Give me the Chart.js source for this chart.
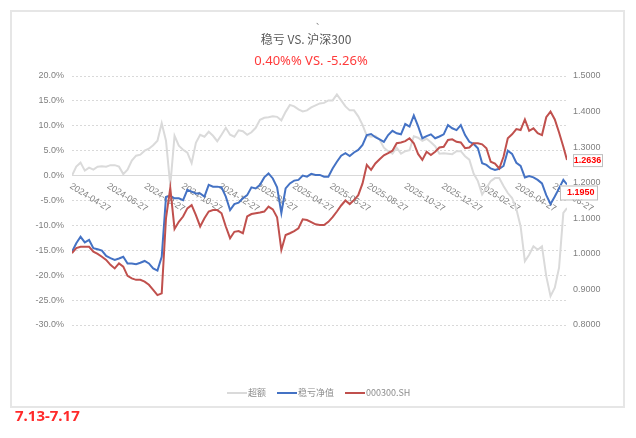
<!DOCTYPE html>
<html>
<head>
<meta charset="utf-8">
<script src="https://cdn.jsdelivr.net/npm/chart.js@4.4.1/dist/chart.umd.min.js"></script>
<style>
  html, body { margin: 0; padding: 0; background: #fff; }
  #wrap { width: 636px; height: 438px; }
</style>
</head>
<body>
<div id="wrap"><canvas id="myChart" width="636" height="438"></canvas></div>
<script>
// 資料 (每週取一點, 最後一點為報告日)
const startDate = "2024-04-27";
const endDate = "2026-07-17";
const stepDays = 7;

const xTickLabels = [
  "2024-04-27", "2024-06-27", "2024-08-27", "2024-10-27", "2024-12-27",
  "2025-02-27", "2025-04-27", "2025-06-27", "2025-08-27", "2025-10-27",
  "2025-12-27", "2026-02-27", "2026-04-27", "2026-06-27"
];

// 超额 (%), 左軸
const excessPct = [
  0.0, 1.8, 2.6, 1.0, 1.6, 1.2, 1.8, 1.9, 1.8, 2.1,
  2.1, 1.8, 0.3, 1.2, 3.0, 4.0, 4.2, 5.0, 5.4, 6.1,
  7.0, 10.5, 7.0, -2.0, 8.0, 6.0, 5.2, 4.6, 2.5, 6.6,
  8.2, 7.8, 8.8, 8.0, 6.9, 8.2, 9.6, 8.2, 7.8, 9.1,
  8.9, 8.2, 8.7, 9.6, 11.2, 11.6, 11.7, 11.9, 11.8, 11.1,
  12.8, 14.2, 13.9, 13.3, 12.9, 13.1, 13.7, 14.1, 14.5, 14.6,
  15.1, 15.1, 16.3, 15.1, 13.9, 13.1, 13.1, 11.9, 10.2, 8.0,
  7.8, 8.0, 7.2, 5.6, 4.9, 4.4, 5.6, 4.4, 4.9, 5.1,
  7.9, 7.6, 7.0, 7.4, 6.7, 5.9, 4.4, 4.5, 4.4, 4.3,
  4.9, 4.9, 3.9, 3.2, 0.4, -1.1, -3.8, -2.5, -1.1, -0.5,
  -0.5, -2.1, -3.5, -4.5, -6.7, -10.2, -17.2, -15.9, -14.2, -14.9,
  -14.2, -20.2, -24.2, -22.5, -18.5, -7.5, -6.5
];

// 稳亏净值, 右軸
const navStrategy = [
  1.006, 1.030, 1.048, 1.032, 1.039, 1.016, 1.013, 1.009, 0.994, 0.988,
  0.983, 0.987, 0.992, 0.973, 0.973, 0.971, 0.975, 0.980, 0.973, 0.959,
  0.953, 0.992, 1.160, 1.163, 1.156, 1.156, 1.151, 1.180, 1.175, 1.170,
  1.170, 1.161, 1.194, 1.189, 1.189, 1.187, 1.161, 1.123, 1.140, 1.144,
  1.156, 1.165, 1.187, 1.184, 1.194, 1.215, 1.226, 1.212, 1.187, 1.115,
  1.184, 1.198, 1.206, 1.208, 1.220, 1.217, 1.225, 1.222, 1.222, 1.217,
  1.217, 1.240, 1.259, 1.276, 1.283, 1.275, 1.285, 1.292, 1.306, 1.334,
  1.337, 1.328, 1.322, 1.315, 1.334, 1.346, 1.339, 1.336, 1.365, 1.358,
  1.389, 1.359, 1.325, 1.331, 1.336, 1.325, 1.330, 1.336, 1.362, 1.353,
  1.348, 1.362, 1.334, 1.315, 1.309, 1.297, 1.255, 1.250, 1.240, 1.236,
  1.239, 1.247, 1.290, 1.281, 1.256, 1.247, 1.215, 1.219, 1.215, 1.208,
  1.198, 1.165, 1.140, 1.161, 1.184, 1.208, 1.195
];

// 000300.SH, 右軸
const navIndex = [
  1.002, 1.016, 1.020, 1.020, 1.020, 1.006, 1.000, 0.992, 0.983, 0.969,
  0.959, 0.973, 0.964, 0.938, 0.931, 0.927, 0.927, 0.922, 0.913, 0.899,
  0.884, 0.889, 1.100, 1.185, 1.070, 1.090, 1.105, 1.128, 1.137, 1.109,
  1.077, 1.100, 1.119, 1.123, 1.123, 1.114, 1.077, 1.044, 1.062, 1.064,
  1.058, 1.105, 1.112, 1.114, 1.116, 1.119, 1.133, 1.125, 1.103, 1.011,
  1.053, 1.058, 1.064, 1.072, 1.097, 1.095, 1.089, 1.083, 1.081, 1.081,
  1.090, 1.103, 1.119, 1.136, 1.150, 1.140, 1.151, 1.165, 1.198, 1.250,
  1.236, 1.254, 1.266, 1.277, 1.283, 1.290, 1.311, 1.313, 1.317, 1.325,
  1.311, 1.281, 1.264, 1.287, 1.278, 1.287, 1.299, 1.301, 1.320, 1.322,
  1.315, 1.313, 1.297, 1.299, 1.311, 1.311, 1.308, 1.297, 1.259, 1.254,
  1.240, 1.273, 1.325, 1.336, 1.351, 1.348, 1.378, 1.346, 1.353, 1.339,
  1.334, 1.384, 1.400, 1.378, 1.341, 1.301, 1.2636
];

const seriesNames = ["超额", "稳亏净值", "000300.SH"];
const titleText = "稳亏 VS. 沪深300";
const subTitleText = "0.40%% VS. -5.26%";
const footText = "7.13-7.17";

// 日期 -> 距起始日天數
function dayOffset(s) {
  return Math.round((Date.parse(s) - Date.parse(startDate)) / 86400000);
}
const lastDay = dayOffset(endDate);

function toPoints(arr) {
  return arr.map((v, i) => ({ x: i === arr.length - 1 ? lastDay : i * stepDays, y: v }));
}

const axisFont = { family: "'Liberation Sans', Arial, sans-serif", size: 9 };
const axisColor = "#808080";

// 自繪: 外框, 標題, 圖例, x 軸標籤, 末端數值
const decoPlugin = {
  id: "deco",
  beforeDraw(chart) {
    const ctx = chart.ctx;
    ctx.save();
    ctx.fillStyle = "#fff";
    ctx.fillRect(0, 0, chart.width, chart.height);
    ctx.strokeStyle = "#e6e6e6";
    ctx.lineWidth = 2;
    ctx.strokeRect(11, 11, 613, 396);
    ctx.restore();
  },
  beforeDatasetsDraw(chart) {
    const ctx = chart.ctx;
    const xs = chart.scales.x;
    const axisY = chart.scales.y.getPixelForValue(0);
    ctx.save();
    ctx.font = "9px 'Liberation Sans', Arial, sans-serif";
    ctx.fillStyle = axisColor;
    ctx.textAlign = "left";
    ctx.textBaseline = "top";
    xTickLabels.forEach((lb) => {
      const px = xs.getPixelForValue(dayOffset(lb));
      ctx.save();
      ctx.translate(px + 1, axisY + 6);
      ctx.rotate((32 * Math.PI) / 180);
      ctx.fillText(lb, 0, 0);
      ctx.restore();
    });
    ctx.restore();
  },
  afterDatasetsDraw(chart) {
    const ctx = chart.ctx;
    ctx.save();
    ctx.font = "bold 9px 'Liberation Sans', Arial, sans-serif";
    ctx.textBaseline = "middle";
    ctx.lineWidth = 1;

    // 000300.SH 末端
    let m = chart.getDatasetMeta(2);
    let p = m.data[m.data.length - 1];
    ctx.fillStyle = "#fff";
    ctx.strokeStyle = "#bfbfbf";
    ctx.fillRect(p.x + 6, p.y - 6, 29, 12);
    ctx.strokeRect(p.x + 6.5, p.y - 5.5, 29, 12);
    ctx.fillStyle = "#ff0000";
    ctx.textAlign = "center";
    ctx.fillText(navIndex[navIndex.length - 1].toFixed(4), p.x + 20.5, p.y + 0.5);

    // 稳亏净值 末端
    m = chart.getDatasetMeta(1);
    p = m.data[m.data.length - 1];
    ctx.fillStyle = "#fff";
    ctx.fillRect(p.x - 7, p.y + 1, 37, 14);
    ctx.strokeRect(p.x - 6.5, p.y + 1.5, 37, 14);
    ctx.fillStyle = "#ff0000";
    ctx.textAlign = "left";
    ctx.fillText(navStrategy[navStrategy.length - 1].toFixed(4), p.x, p.y + 8.5);
    ctx.restore();
  },
  afterDraw(chart) {
    const ctx = chart.ctx;
    ctx.save();
    ctx.textBaseline = "middle";
    ctx.textAlign = "center";

    // 標題
    ctx.fillStyle = "#7f7f7f";
    ctx.font = "8px 'Noto Sans CJK SC'";
    ctx.textAlign = "left";
    ctx.textBaseline = "top";
    ctx.fillText("、", 316, 17);

    ctx.textAlign = "center";
    ctx.textBaseline = "middle";
    ctx.fillStyle = "#595959";
    ctx.font = "12px 'Noto Sans CJK SC', sans-serif";
    ctx.fillText(titleText, 306, 39);

    ctx.fillStyle = "#ff3b3b";
    ctx.font = "13px 'Noto Sans', sans-serif";
    ctx.fillText(subTitleText, 311, 61);

    // 圖例
    let lx = 227;
    const ly = 393;
    ctx.textAlign = "left";
    chart.data.datasets.forEach((ds, i) => {
      ctx.strokeStyle = ds.borderColor;
      ctx.lineWidth = 2;
      ctx.beginPath();
      ctx.moveTo(lx, ly);
      ctx.lineTo(lx + 20, ly);
      ctx.stroke();
      ctx.font = "9px 'Noto Sans CJK SC', 'Liberation Sans', sans-serif";
      ctx.fillStyle = "#8c8c8c";
      ctx.fillText(ds.label, lx + 21, ly);
      lx += 21 + ctx.measureText(ds.label).width + 11;
    });

    // 左下日期
    ctx.fillStyle = "#ff2a2a";
    ctx.font = "bold 15px 'Noto Sans', sans-serif";
    ctx.fillText(footText, 15, 417);
    ctx.restore();
  }
};

const myChart = new Chart(document.getElementById("myChart").getContext("2d"), {
  type: "line",
  plugins: [decoPlugin],
  data: {
    datasets: [
      {
        label: seriesNames[0],
        data: toPoints(excessPct),
        yAxisID: "y",
        borderColor: "#dadada",
        borderWidth: 2,
        pointRadius: 0,
        order: 2
      },
      {
        label: seriesNames[1],
        data: toPoints(navStrategy),
        yAxisID: "y1",
        borderColor: "#4472c4",
        borderWidth: 2,
        pointRadius: 0,
        order: 1
      },
      {
        label: seriesNames[2],
        data: toPoints(navIndex),
        yAxisID: "y1",
        borderColor: "#c0504d",
        borderWidth: 2,
        pointRadius: 0,
        order: 0
      }
    ]
  },
  options: {
    responsive: false,
    animation: false,
    layout: { padding: { top: 76, bottom: 113, left: 0, right: 0 } },
    plugins: {
      legend: { display: false },
      title: { display: false },
      tooltip: { enabled: false }
    },
    scales: {
      x: {
        type: "linear",
        axis: "x",
        min: 0,
        max: lastDay,
        position: { y: 0 },
        grid: { display: false, drawTicks: false },
        ticks: { display: false },
        border: { display: true, color: "#d9d9d9", width: 1 }
      },
      y: {
        type: "linear",
        position: "left",
        min: -30,
        max: 20,
        ticks: {
          stepSize: 5,
          padding: 8,
          color: axisColor,
          font: axisFont,
          callback: (v) => v.toFixed(1) + "%"
        },
        grid: { color: "#d9d9d9", lineWidth: 1, drawTicks: false },
        border: { display: false, dash: [2, 2] },
        afterFit: (s) => { s.width = 72; }
      },
      y1: {
        type: "linear",
        position: "right",
        min: 0.8,
        max: 1.5,
        ticks: {
          stepSize: 0.1,
          padding: 6,
          color: axisColor,
          font: axisFont,
          callback: (v) => v.toFixed(4)
        },
        grid: { drawOnChartArea: false, drawTicks: false },
        border: { display: false },
        afterFit: (s) => { s.width = 69; }
      }
    }
  }
});
</script>
</body>
</html>
